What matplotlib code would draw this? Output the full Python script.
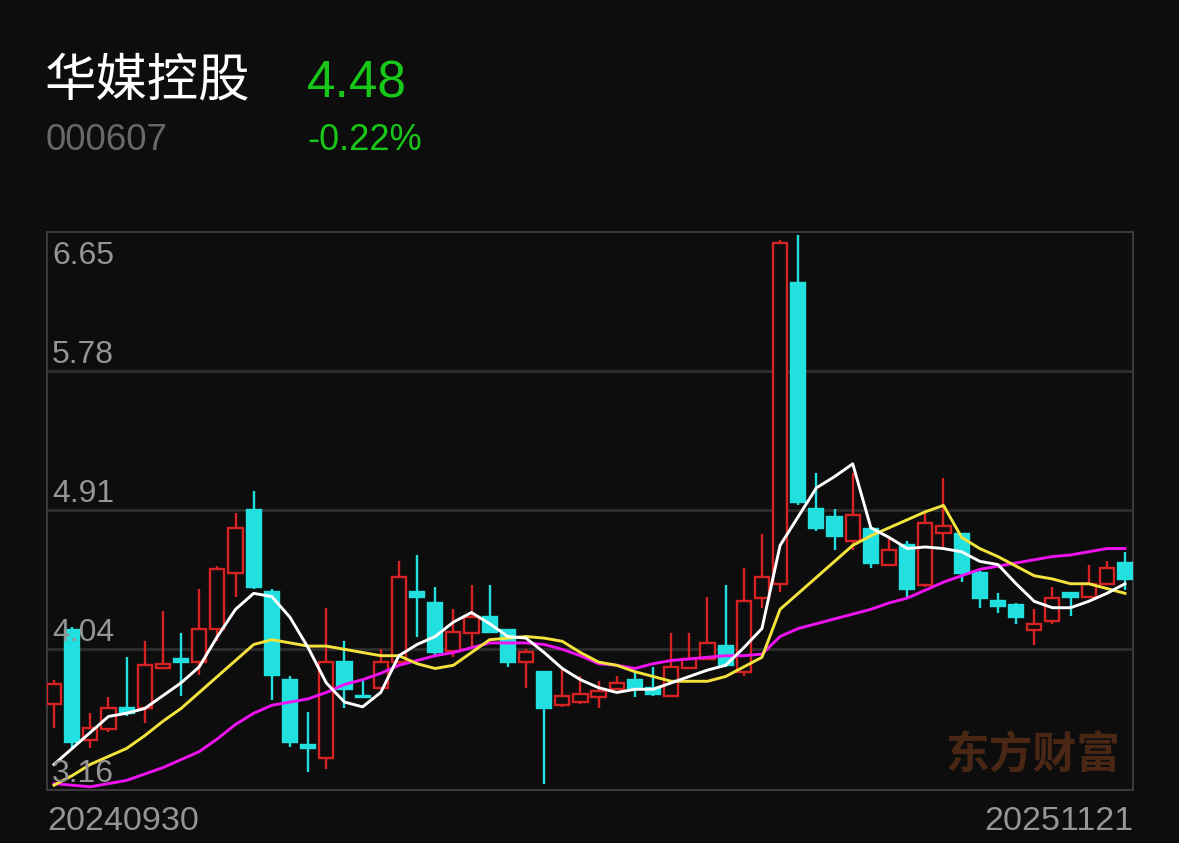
import matplotlib
matplotlib.use("Agg")
import matplotlib.pyplot as plt
import numpy as np

# weekly candles 20240930 .. 20251121
opens = [3.70, 4.16, 3.47, 3.54, 3.67, 3.67, 3.92, 3.98, 3.96, 4.17,
         4.52, 4.91, 4.40, 3.85, 3.44, 3.36, 3.96, 3.75, 3.80, 3.96,
         4.40, 4.33, 4.03, 4.14, 4.24, 4.16, 3.96, 3.90, 3.69, 3.71,
         3.74, 3.79, 3.85, 3.80, 3.75, 3.92, 3.98, 4.06, 3.90, 4.36,
         4.45, 6.33, 4.92, 4.87, 4.72, 4.79, 4.57, 4.69, 4.44, 4.77,
         4.76, 4.52, 4.34, 4.32, 4.16, 4.22, 4.39, 4.37, 4.45, 4.58]
closes = [3.82, 3.46, 3.55, 3.67, 3.64, 3.94, 3.95, 3.96, 4.17, 4.54,
          4.80, 4.43, 3.88, 3.46, 3.42, 3.96, 3.79, 3.74, 3.96, 4.49,
          4.37, 4.02, 4.15, 4.24, 4.15, 3.96, 4.02, 3.67, 3.75, 3.76,
          3.78, 3.83, 3.80, 3.76, 3.93, 3.98, 4.08, 3.94, 4.34, 4.49,
          6.58, 4.96, 4.80, 4.75, 4.88, 4.58, 4.66, 4.42, 4.83, 4.81,
          4.52, 4.36, 4.31, 4.24, 4.20, 4.36, 4.37, 4.45, 4.55, 4.48]
highs = [3.85, 4.18, 3.64, 3.74, 3.99, 4.09, 4.28, 4.14, 4.42, 4.56,
         4.89, 5.03, 4.42, 3.87, 3.65, 4.30, 4.09, 3.85, 4.04, 4.59,
         4.63, 4.43, 4.29, 4.44, 4.44, 4.17, 4.04, 3.90, 3.91, 3.87,
         3.84, 3.87, 3.90, 3.93, 4.14, 4.14, 4.37, 4.44, 4.55, 4.76,
         6.60, 6.63, 5.14, 4.92, 5.14, 4.80, 4.74, 4.72, 4.89, 5.11,
         4.77, 4.53, 4.39, 4.33, 4.29, 4.43, 4.39, 4.57, 4.59, 4.65]
lows = [3.55, 3.42, 3.42, 3.52, 3.62, 3.58, 3.92, 3.75, 3.88, 4.09,
        4.37, 4.42, 3.72, 3.43, 3.27, 3.29, 3.67, 3.74, 3.80, 3.95,
        4.12, 4.00, 3.99, 4.05, 4.14, 3.93, 3.80, 3.20, 3.68, 3.70,
        3.67, 3.79, 3.74, 3.75, 3.74, 3.92, 3.97, 3.93, 3.87, 4.30,
        4.40, 4.94, 4.78, 4.66, 4.66, 4.55, 4.57, 4.37, 4.43, 4.68,
        4.46, 4.30, 4.27, 4.20, 4.07, 4.20, 4.25, 4.37, 4.44, 4.41]

ma5 = [3.32, 3.42, 3.52, 3.62, 3.64, 3.67, 3.75, 3.83, 3.93, 4.12,
       4.29, 4.39, 4.37, 4.24, 4.05, 3.83, 3.71, 3.68, 3.77, 4.00,
       4.07, 4.12, 4.21, 4.27, 4.20, 4.12, 4.11, 4.02, 3.92, 3.85,
       3.80, 3.77, 3.79, 3.79, 3.83, 3.87, 3.91, 3.94, 4.05, 4.17,
       4.69, 4.87, 5.05, 5.12, 5.20, 4.80, 4.74, 4.67, 4.68, 4.67,
       4.65, 4.59, 4.57, 4.45, 4.34, 4.30, 4.30, 4.34, 4.39, 4.45]
ma10 = [3.19, 3.25, 3.32, 3.37, 3.42, 3.50, 3.59, 3.67, 3.77, 3.87,
        3.97, 4.07, 4.10, 4.08, 4.06, 4.06, 4.04, 4.02, 4.00, 4.00,
        3.95, 3.92, 3.94, 4.02, 4.10, 4.11, 4.12, 4.11, 4.09, 4.02,
        3.96, 3.94, 3.90, 3.87, 3.84, 3.84, 3.84, 3.87, 3.93, 3.99,
        4.29, 4.39, 4.49, 4.59, 4.69, 4.75, 4.80, 4.85, 4.90, 4.94,
        4.74, 4.67, 4.62, 4.56, 4.50, 4.48, 4.45, 4.45, 4.42, 4.39]
ma20 = [3.20, 3.19, 3.18, 3.20, 3.22, 3.26, 3.30, 3.35, 3.40, 3.48,
        3.57, 3.64, 3.69, 3.71, 3.73, 3.77, 3.82, 3.85, 3.89, 3.94,
        3.97, 4.00, 4.02, 4.05, 4.08, 4.08, 4.08, 4.07, 4.04, 4.00,
        3.95, 3.94, 3.92, 3.95, 3.97, 3.98, 3.99, 4.00, 4.00, 4.01,
        4.12, 4.17, 4.20, 4.23, 4.26, 4.29, 4.33, 4.36, 4.41, 4.46,
        4.50, 4.54, 4.56, 4.58, 4.60, 4.62, 4.63, 4.65, 4.67, 4.67]

y_ticks = [6.65, 5.78, 4.91, 4.04, 3.16]
start_date, end_date = "20240930", "20251121"
name, code = "华媒控股", "000607"
last_price, pct_change = "4.48", "-0.22%"

BG = "#0d0d0d"
RED = "#d62222"
CYAN = "#22e0e0"
GREEN = "#18c818"
FRAME = "#3a3a3a"
LABEL = "#959595"

W, H = 1179, 843


def fx(px):
    return px / W


def fy(py):
    return 1 - py / H


fig = plt.figure(figsize=(W / 100, H / 100), dpi=100, facecolor=BG)
ax = fig.add_axes([fx(47), fy(790), fx(1133) - fx(47), fy(232) - fy(790)])
ax.set_facecolor(BG)

n = len(closes)
x = np.arange(n)
upt = 59 / (1125 - 54)
ax.set_xlim(-7 * upt, n - 1 + 8 * upt)
ax.set_ylim(y_ticks[-1], y_ticks[0])

o = np.array(opens)
c = np.array(closes)
up = c >= o
colors = np.where(up, RED, CYAN)

ax.vlines(x, lows, highs, colors=colors, linewidth=1.7, zorder=2)
body_h = np.maximum(np.abs(c - o), 0.008)
ax.bar(x, body_h, bottom=np.minimum(o, c), width=0.78,
       color=np.where(up, BG, CYAN), edgecolor=colors, linewidth=1.7, zorder=3)

ax.plot(x, ma20, color="#f012f0", linewidth=2.1, zorder=4)
ax.plot(x, ma10, color="#f4e33c", linewidth=2.1, zorder=4)
ax.plot(x, ma5, color="white", linewidth=2.1, zorder=5)

# grid + frame
for t in y_ticks[1:-1]:
    ax.axhline(t, color="#2e2e2e", linewidth=2.0, zorder=1)
for s in ax.spines.values():
    s.set_color(FRAME)
    s.set_linewidth(1.5)
ax.set_xticks([])
ax.set_yticks([])

lab_font = dict(family=["Liberation Sans", "DejaVu Sans"], fontsize=23, color=LABEL)
for t in y_ticks:
    if t == y_ticks[0]:
        ax.annotate(f"{t:.2f}", (0, 1), xycoords="axes fraction",
                    xytext=(5, -9), textcoords="offset pixels",
                    ha="left", va="top", zorder=6, **lab_font)
    else:
        ax.annotate(f"{t:.2f}", (0, t), xycoords=("axes fraction", "data"),
                    xytext=(5, 8), textcoords="offset pixels",
                    ha="left", va="baseline", zorder=6, **lab_font)

date_font = dict(lab_font, fontsize=24.5)
fig.text(fx(47), fy(830), start_date, ha="left", va="baseline", **date_font)
fig.text(fx(1133), fy(830), end_date, ha="right", va="baseline", **date_font)

# watermark
fig.text(fx(1033), fy(755), "东方财富", ha="center", va="center",
         fontsize=31.5, fontweight="bold", color="#4a2714",
         family=["Noto Sans CJK SC", "DejaVu Sans"], zorder=6)

# header
fig.text(fx(45), fy(81), name, ha="left", va="center", fontsize=37,
         color="white", family=["Noto Sans CJK SC", "DejaVu Sans"])
fig.text(fx(307), fy(97), last_price, ha="left", va="baseline", fontsize=37,
         color=GREEN, family=["Liberation Sans", "DejaVu Sans"])
fig.text(fx(46), fy(150), code, ha="left", va="baseline", fontsize=26.5,
         color="#686868", family=["Liberation Sans", "DejaVu Sans"])
fig.text(fx(307), fy(150), pct_change, ha="left", va="baseline", fontsize=26,
         color=GREEN, family=["Liberation Sans", "DejaVu Sans"])

fig.savefig("out.png", dpi=100, facecolor=BG)
